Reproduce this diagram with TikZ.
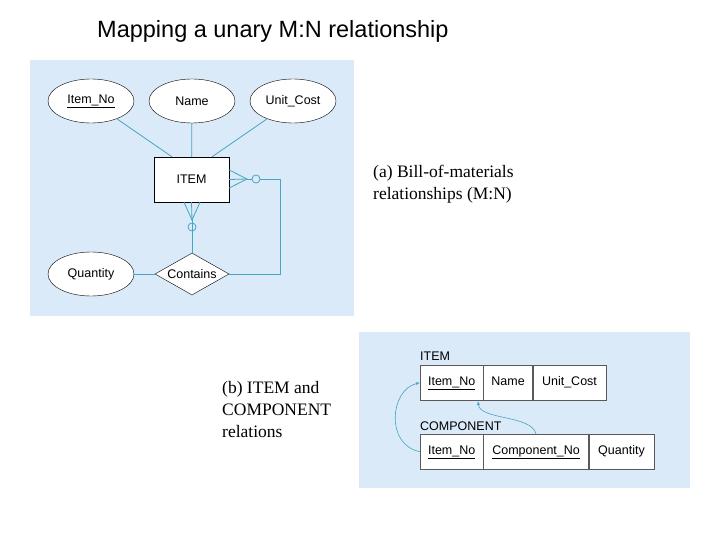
\documentclass[tikz,border=0pt]{standalone}
\usepackage{fontspec}
\setmainfont{Liberation Serif}
\newfontfamily\diafont{Liberation Sans}
\usetikzlibrary{positioning, shapes, arrows.meta}
\definecolor{panelblue}{RGB}{218,234,248}
\definecolor{linkblue}{RGB}{70,165,195}
\tikzset{
  dia/.style={font=\diafont\fontsize{12.5}{15}\selectfont},
  attr/.style={draw, ellipse, fill=white, minimum width=86pt, minimum height=44pt, inner sep=0pt, dia},
  entity/.style={draw, fill=white, minimum width=75pt, minimum height=45pt, dia},
  rel/.style={draw, diamond, fill=white, aspect=1.75, inner sep=0pt, minimum width=74pt, minimum height=42pt, dia},
  link/.style={linkblue, line width=0.8pt},
  cell/.style={draw=gray!70!black, fill=white, minimum height=35pt, inner sep=0pt, text height=9pt, text depth=3pt, dia},
  caption/.style={align=left, anchor=north west, inner sep=0pt, font=\fontsize{17.5}{22}\selectfont}
}
\begin{document}
\begin{tikzpicture}[x=1pt, y=-1pt]
            \useasboundingbox (0,0) rectangle (720,540);
            \node[anchor=west, inner sep=0pt, font=\diafont\fontsize{23.5}{28}\selectfont] (title) at (97,31) {Mapping a unary M:N relationship};

            % (a) E-R diagram
            \fill[panelblue] (30,60) rectangle (354,316);
            \node[attr] (itemno) at (91,101) {\underline{Item\_No}};
            \node[attr] (name) at (192,101) {Name};
            \node[attr] (unitcost) at (293,101) {Unit\_Cost};
            \node[entity] (item) at (191.5,179.5) {ITEM};
            \node[rel] (contains) at (192,274) {Contains};
            \node[attr] (quantity) at (91,274) {Quantity};
            \coordinate (rfoot) at (247,179);
            \coordinate (rcircle) at (256,179);
            \coordinate (rcorner) at (280,179);
            \coordinate (bfoot) at (192,220);
            \coordinate (bcircle) at (192,227);

            \draw[link] (itemno) -- (item.north west -| 172,0);
            \draw[link] (name) -- (item);
            \draw[link] (unitcost) -- (item.north east -| 212,0);
            \draw[link] (quantity) -- (contains);
            \draw[link] (item.east) -- (rfoot);
            \draw[link] (item.north east |- 0,170) -- (rfoot) -- (item.south east |- 0,188);
            \draw[link] (rfoot) -- ([xshift=-4pt]rcircle);
            \draw[link] (rcircle) circle (4pt);
            \draw[link] ([xshift=4pt]rcircle) -- (rcorner) |- (contains.east);
            \draw[link] (item.south) -- (bfoot);
            \draw[link] (item.south west -| 184,0) -- (bfoot) -- (item.south east -| 200,0);
            \draw[link] (bfoot) -- ([yshift=-4pt]bcircle);
            \draw[link] (bcircle) circle (4pt);
            \draw[link] ([yshift=4pt]bcircle) -- (contains.north);
            \node[caption] (capa) at (373,165) {(a) Bill-of-materials\\relationships (M:N)};

            % (b) relations
            \fill[panelblue] (359,332) rectangle (690,488);
            \node[anchor=south west, inner sep=0pt, dia] (itemlbl) at (420,361) {ITEM};
            \node[cell, minimum width=63pt, anchor=north west] (i1) at (420,365) {\underline{Item\_No}};
            \node[cell, minimum width=49pt, right=0pt of i1] (i2) {Name};
            \node[cell, minimum width=73pt, right=0pt of i2] (i3) {Unit\_Cost};
            \node[anchor=south west, inner sep=0pt, dia] (complbl) at (420,431) {COMPONENT};
            \node[cell, minimum width=63pt, anchor=north west] (c1) at (420,434) {\underline{Item\_No}};
            \node[cell, minimum width=105pt, right=0pt of c1] (c2) {\underline{Component\_No}};
            \node[cell, minimum width=65pt, right=0pt of c2] (c3) {Quantity};
            \draw[link, line width=0.6pt, -{Latex[length=4pt]}] (c1.west) .. controls (385,445) and (390,390) .. (i1.west);
            \draw[link, line width=0.6pt, -{Latex[length=4pt]}] (c2.north -| 536,0) .. controls (532,415) and (480,420) .. (478,401);
            \node[caption] (capb) at (222,381) {(b) ITEM and\\COMPONENT\\relations};
\end{tikzpicture}
\end{document}
